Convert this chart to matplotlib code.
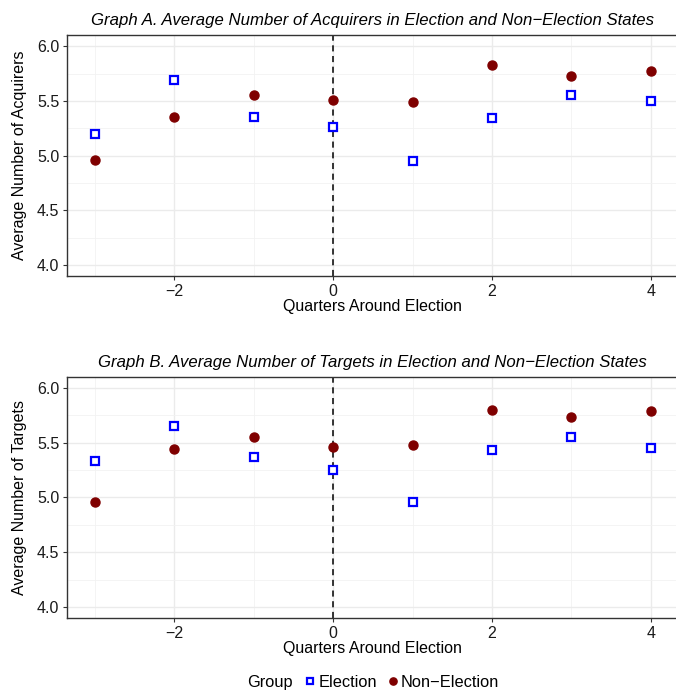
import matplotlib.pyplot as plt
from matplotlib.ticker import MultipleLocator

plt.rcParams['font.family'] = ['Liberation Sans', 'DejaVu Sans']

quarters = [-3, -2, -1, 0, 1, 2, 3, 4]

acq_election = [5.20, 5.69, 5.35, 5.26, 4.95, 5.34, 5.55, 5.50]
acq_nonelection = [4.96, 5.35, 5.55, 5.51, 5.49, 5.83, 5.73, 5.77]

tgt_election = [5.33, 5.65, 5.37, 5.25, 4.96, 5.43, 5.55, 5.45]
tgt_nonelection = [4.96, 5.44, 5.55, 5.46, 5.48, 5.80, 5.73, 5.79]

panels = [
    ("Graph A. Average Number of Acquirers in Election and Non\u2212Election States",
     "Average Number of Acquirers", acq_election, acq_nonelection),
    ("Graph B. Average Number of Targets in Election and Non\u2212Election States",
     "Average Number of Targets", tgt_election, tgt_nonelection),
]

fig = plt.figure(figsize=(6.76, 6.9), dpi=100)
boxes = [[0.099, 0.600, 0.905, 0.349], [0.099, 0.104, 0.905, 0.350]]

for (title, ylab, elec, nonel), box in zip(panels, boxes):
    ax = fig.add_axes(box)
    ax.set_xlim(-3.35, 4.35)
    ax.set_ylim(3.9, 6.1)
    ax.xaxis.set_major_locator(MultipleLocator(2))
    ax.xaxis.set_minor_locator(MultipleLocator(1))
    ax.yaxis.set_major_locator(MultipleLocator(0.5))
    ax.yaxis.set_minor_locator(MultipleLocator(0.25))
    ax.grid(which='major', color='#ebebeb', lw=1.0, zorder=0)
    ax.grid(which='minor', color='#f2f2f2', lw=0.6, zorder=0)
    ax.set_axisbelow(True)
    ax.tick_params(which='minor', length=0)
    ax.tick_params(which='major', length=3, width=0.8, color='#333333',
                   labelsize=11.5, labelcolor='#1a1a1a', pad=2.5)
    for s in ax.spines.values():
        s.set_color('#333333')
        s.set_linewidth(1.0)
    ax.spines['right'].set_visible(False)
    ax.set_yticks([4.0, 4.5, 5.0, 5.5, 6.0])
    ax.set_yticklabels(['4.0', '4.5', '5.0', '5.5', '6.0'])
    ax.set_xticks([-2, 0, 2, 4])
    ax.set_xticklabels(['\u22122', '0', '2', '4'])

    ax.axvline(0, color='black', lw=1.1, ls=(0, (4, 3)), zorder=1)
    ax.plot(quarters, nonel, 'o', ms=6.5, color='#7f0000', mec='#7f0000', zorder=3,
            label='Non\u2212Election')
    ax.plot(quarters, elec, 's', ms=5.3, mfc='white', mec='#0000ff', mew=1.6, zorder=3,
            label='Election')

    ax.set_title(title, style='italic', fontsize=12.1, pad=7)
    ax.set_xlabel('Quarters Around Election', fontsize=11.5, labelpad=0)
    ax.set_ylabel(ylab, fontsize=11.5, labelpad=7)

h, l = ax.get_legend_handles_labels()
fig.text(0.365, 0.011, 'Group', fontsize=11.8, ha='left', va='center')
fig.legend(h[::-1], l[::-1], loc='center left', bbox_to_anchor=(0.448, 0.011),
           ncol=2, frameon=False, fontsize=11.8, handletextpad=0.05,
           columnspacing=0.5, handlelength=0.9, borderpad=0, borderaxespad=0,
           markerscale=0.8)

fig.savefig('out.png', dpi=100)
